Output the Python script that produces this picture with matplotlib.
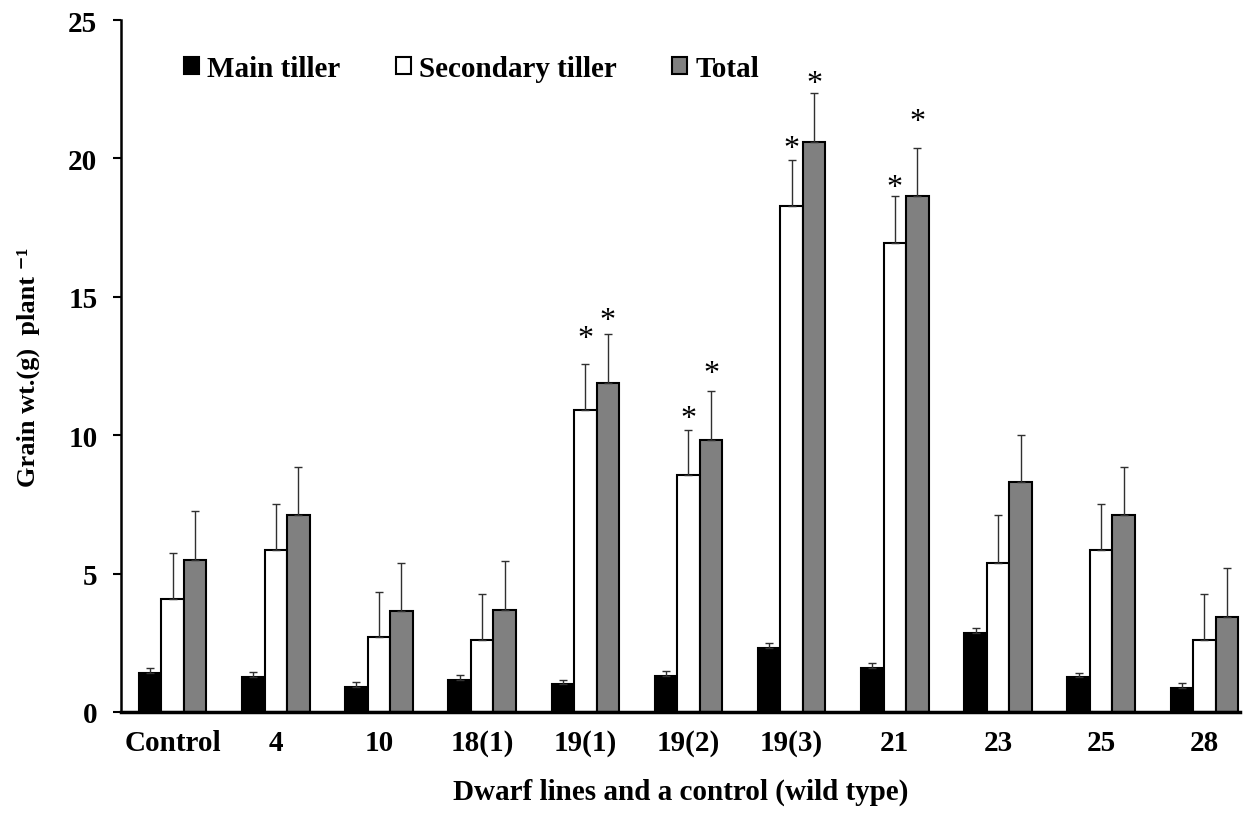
import matplotlib
matplotlib.use("Agg")
import matplotlib.pyplot as plt
import numpy as np

categories = ["Control", "4", "10", "18(1)", "19(1)", "19(2)", "19(3)", "21", "23", "25", "28"]
main_tiller = [1.4, 1.25, 0.9, 1.15, 1.0, 1.3, 2.3, 1.6, 2.85, 1.25, 0.85]
secondary_tiller = [4.1, 5.85, 2.7, 2.6, 10.92, 8.55, 18.27, 16.95, 5.4, 5.85, 2.6]
total = [5.5, 7.1, 3.65, 3.7, 11.9, 9.84, 20.59, 18.63, 8.3, 7.1, 3.45]
main_err = [0.18, 0.2, 0.2, 0.17, 0.17, 0.17, 0.2, 0.17, 0.17, 0.17, 0.2]
secondary_err = [1.65, 1.65, 1.65, 1.65, 1.65, 1.65, 1.66, 1.7, 1.7, 1.65, 1.65]
total_err = [1.75, 1.75, 1.75, 1.75, 1.77, 1.77, 1.77, 1.74, 1.7, 1.75, 1.75]
# asterisk (significance) marks: level of each mark, None where absent
secondary_star = [None, None, None, None, 13.73, 10.84, 20.59, 19.18, None, None, None]
total_star = [None, None, None, None, 14.38, 12.46, 22.94, 21.57, None, None, None]

plt.rcParams['font.family'] = ['Liberation Serif', 'DejaVu Serif']

fig = plt.figure(figsize=(12.51, 8.37), dpi=100)
ax = fig.add_axes([121 / 1251, 1 - 713 / 837, (1240 - 121) / 1251, (713 - 21) / 837])

x = np.arange(len(categories))
w = 0.218
err_kw = dict(ecolor='#303030', elinewidth=1.0, capsize=3, capthick=1.0)
ax.bar(x - w, main_tiller, w, color='black', edgecolor='black', linewidth=1.5,
       yerr=[np.zeros(len(x)), main_err], error_kw=err_kw, label='Main tiller')
ax.bar(x, secondary_tiller, w, color='white', edgecolor='black', linewidth=1.5,
       yerr=[np.zeros(len(x)), secondary_err], error_kw=err_kw, label='Secondary tiller')
ax.bar(x + w, total, w, color='#808080', edgecolor='black', linewidth=1.5,
       yerr=[np.zeros(len(x)), total_err], error_kw=err_kw, label='Total')

for i in range(len(x)):
    if secondary_star[i] is not None:
        ax.annotate('*', xy=(x[i], secondary_star[i]), xytext=(0, -10), textcoords='offset points',
                    ha='center', va='baseline', fontsize=23)
    if total_star[i] is not None:
        ax.annotate('*', xy=(x[i] + w, total_star[i]), xytext=(0, -10), textcoords='offset points',
                    ha='center', va='baseline', fontsize=23)

ax.set_xlim(-0.5, 10.345)
ax.set_ylim(0, 25)
ax.set_yticks([0, 5, 10, 15, 20, 25])
ax.set_xticks(x)
ax.set_xticklabels(categories, fontsize=21, fontweight='bold')
for lbl in ax.get_yticklabels():
    lbl.set_fontsize(21)
    lbl.set_fontweight('bold')
ax.tick_params(axis='x', length=0, pad=12)
ax.tick_params(axis='y', direction='out', length=6, width=1.5, pad=11)
for s in ['top', 'right']:
    ax.spines[s].set_visible(False)
ax.spines['left'].set_linewidth(1.8)
ax.spines['bottom'].set_linewidth(2.5)

ax.set_ylabel('Grain wt.(g)  plant \u207b\u00b9', fontsize=19, fontweight='bold', labelpad=20)
ax.set_xlabel('Dwarf lines and a control (wild type)', fontsize=21, fontweight='bold', labelpad=16)

leg = ax.legend(loc='center left', bbox_to_anchor=(0.0563, 0.9305), ncol=3, frameon=False,
                prop={'weight': 'bold', 'size': 21}, handlelength=0.5, handleheight=0.5,
                handletextpad=0.3, columnspacing=1.9, borderpad=0, borderaxespad=0)

fig.savefig('out.png', dpi=100)
